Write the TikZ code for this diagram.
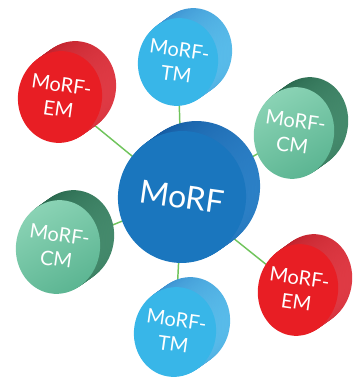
\documentclass[tikz,border=0pt]{standalone}
\usepackage{fontspec}
\setmainfont{Lato}
\usetikzlibrary{calc}

\definecolor{hubfront}{RGB}{26,118,190}
\definecolor{hubdark}{RGB}{12,78,150}
\definecolor{hublight}{RGB}{45,130,200}
\definecolor{tmfront}{RGB}{56,182,232}
\definecolor{tmdark}{RGB}{50,130,200}
\definecolor{tmlight}{RGB}{90,190,235}
\definecolor{emfront}{RGB}{232,30,36}
\definecolor{emdark}{RGB}{180,24,34}
\definecolor{emlight}{RGB}{225,60,70}
\definecolor{cmfront}{RGB}{90,180,145}
\definecolor{cmtop}{RGB}{140,212,182}
\definecolor{cmdark}{RGB}{30,90,65}
\definecolor{cmlight}{RGB}{70,140,110}
\definecolor{linkgreen}{RGB}{112,196,92}

\tikzset{every picture/.style={line width=0.75pt}}
\tikzset{
  link/.style={draw=linkgreen, line width=1.1pt},
  disctext/.style={text=white, align=center, inner sep=0.75pt, rotate=-8},
  hubface/.style={fill=hubfront},
  tmface/.style={fill=tmfront},
  emface/.style={fill=emfront},
  cmface/.style={top color=cmtop, bottom color=cmfront, shading angle=30},
}

% disc: name, x, y, rx, ry, colour prefix, text, font size, line skip
\newcommand{\morfdisc}[9]{%
  \coordinate (#1) at (#2,#3);
  \foreach \t in {1,0.9,...,0.05}
    \path [shading=axis, left color=#6dark, right color=#6light, shift={(#2+14*\t,#3-10*\t)}, rotate=10]
      (0,0) ellipse [x radius=#4, y radius=#5];
  \path [#6face, shift={(#2,#3)}, rotate=10] (0,0) ellipse [x radius=#4, y radius=#5];
  \node [disctext, font=\fontsize{#8}{#9}\selectfont] (#1text) at (#2,#3) {#7};
}

\begin{document}
\begin{tikzpicture}[x=0.75pt,y=0.75pt,yscale=-1,xscale=1]
\useasboundingbox (0,0) rectangle (354,381);

%Centres
\coordinate (hub) at (182,197);
\coordinate (tmA) at (178,62);
\coordinate (emA) at (60,97);
\coordinate (cmA) at (294,133);
\coordinate (cmB) at (58,247);
\coordinate (emB) at (298,290);
\coordinate (tmB) at (175,332);

%Links
\foreach \leaf in {tmA,emA,cmA,cmB,emB,tmB}
  \draw [link] (hub) -- (\leaf);

%Outer discs
\morfdisc{tmA}{178}{62}{40}{44}{tm}{MoRF-\\TM}{15}{18.5}
\morfdisc{emA}{60}{97}{42}{46}{em}{MoRF-\\EM}{15}{18.5}
\morfdisc{cmA}{294}{133}{40}{46}{cm}{MoRF-\\CM}{15}{18.5}
\morfdisc{cmB}{58}{247}{42}{47}{cm}{MoRF-\\CM}{15}{18.5}
\morfdisc{emB}{298}{290}{40}{46}{em}{MoRF-\\EM}{15}{18.5}
\morfdisc{tmB}{175}{332}{41}{45}{tm}{MoRF-\\TM}{15}{18.5}

%Hub disc
\morfdisc{hub}{182}{197}{64}{66}{hub}{MoRF}{24}{28}

\end{tikzpicture}
\end{document}
